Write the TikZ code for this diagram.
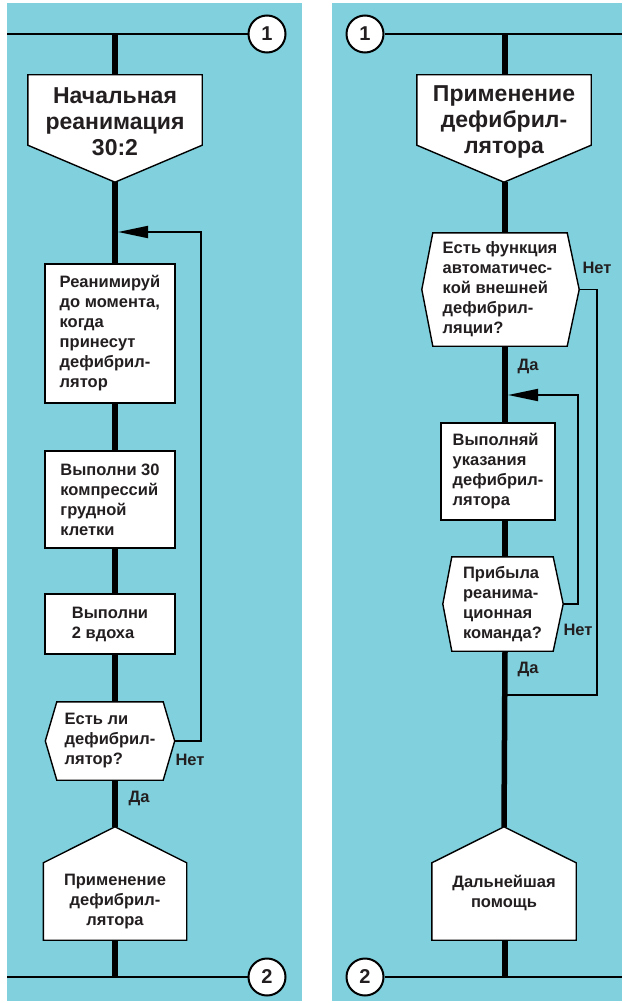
\documentclass[tikz,border=0pt]{standalone}
\usepackage{fontspec}
\setmainfont{Liberation Sans}
\usetikzlibrary{arrows.meta,calc}
\definecolor{panel}{RGB}{128,209,221}
\definecolor{ink}{RGB}{35,31,32}
\pgfdeclarelayer{bg}
\pgfsetlayers{bg,main}
\begin{document}
\begin{tikzpicture}[x=1pt,y=-1pt,
  body/.style={font=\fontsize{16.5}{20}\selectfont\bfseries, text=ink},
  head/.style={font=\fontsize{23}{26}\selectfont\bfseries, text=ink, align=center},
  box/.style={body, draw=black, line width=1.4pt, fill=white, align=left, inner sep=0pt},
  shapebox/.style={inner sep=0pt, draw=none},
  outline/.style={draw=black, line width=1.4pt, fill=white, line join=miter},
  spine/.style={line width=5.5pt, black},
  wire/.style={line width=2pt, black},
  loopline/.style={line width=1.8pt, black},
  tip/.style={-{Triangle[length=30pt,width=12pt]}},
  conn/.style={circle, draw=black, line width=2pt, fill=white, minimum size=37pt, inner sep=0pt, font=\fontsize{20}{20}\selectfont\bfseries, text=ink},
  lbl/.style={body},
]
\useasboundingbox (0,0) rectangle (622,1003);

% ---------------- left panel ----------------
\coordinate (sL) at (115,0);
\node[conn] (c1L) at (267,34) {1};
\coordinate (e1L) at (7,34);
\coordinate (j1L) at (115,34);
\node[shapebox, minimum width=174pt, minimum height=107pt] (hL) at (115,128.5) {};
\node[head] (hLt) at (115,122) {Начальная\\реанимация\\30:2};
\node[box, minimum width=130pt, minimum height=139pt] (b1L) at (110,333.5)
  {Реанимируй\\до момента,\\когда\\принесут\\дефибрил-\\лятор};
\node[box, minimum width=130pt, minimum height=97pt] (b2L) at (110,499.5)
  {Выполни 30\\компрессий\\грудной\\клетки};
\node[box, minimum width=130pt, minimum height=60pt] (b3L) at (110,624)
  {Выполни\\2 вдоха};
\node[shapebox, body, align=left, minimum width=106pt, minimum height=78pt] (dL) at (110,741)
  {Есть ли\\дефибрил-\\лятор?};
\coordinate (dLr) at ([xshift=11.5pt]dL.east);
\coordinate (dLl) at ([xshift=-11.5pt]dL.west);
\node[shapebox, body, align=center, minimum width=143pt, minimum height=77pt] (pL) at (115,901.5)
  {Применение\\дефибрил-\\лятора};
\coordinate (pLapex) at ([yshift=36pt]pL.north);
\node[conn] (c2L) at (267,977) {2};
\coordinate (e2L) at (7,977);
\coordinate (j2L) at (115,977);
\coordinate (aL) at (118,232);
\node[lbl] (noL) at (190,760) {Нет};
\node[lbl] (yesL) at (139,798) {Да};

% ---------------- right panel ----------------
\coordinate (sR) at (505,0);
\node[conn] (c1R) at (365,34) {1};
\coordinate (e1R) at (622,34);
\coordinate (j1R) at (505,34);
\node[shapebox, minimum width=174pt, minimum height=107pt] (hR) at (504,128.5) {};
\node[head] (hRt) at (504,122) {Применение\\дефибрил-\\лятора};
\node[shapebox, body, align=left, minimum width=134pt, minimum height=113pt] (dR1) at (500,289.5)
  {Есть функция\\автоматичес-\\кой внешней\\дефибрил-\\ляции?};
\coordinate (dR1r) at ([xshift=12pt]dR1.east);
\coordinate (dR1l) at ([xshift=-11pt]dR1.west);
\node[box, minimum width=114pt, minimum height=97pt] (bR) at (498,471.5)
  {Выполняй\\указания\\дефибрил-\\лятора};
\node[shapebox, body, align=left, minimum width=101pt, minimum height=94pt] (dR2) at (502.5,604)
  {Прибыла\\реанима-\\ционная\\команда?};
\coordinate (dR2r) at ([xshift=10pt]dR2.east);
\coordinate (dR2l) at ([xshift=-9pt]dR2.west);
\node[shapebox, body, align=center, minimum width=144pt, minimum height=77pt] (pR) at (504,901.5)
  {Дальнейшая\\помощь\\\mbox{}};
\coordinate (pRapex) at ([yshift=36pt]pR.north);
\node[conn] (c2R) at (365,977) {2};
\coordinate (e2R) at (622,977);
\coordinate (j2R) at (505,977);
\coordinate (aR) at (508,395);
\coordinate (mR) at (505,695);
\node[lbl] (noR1) at (597,268) {Нет};
\node[lbl] (yesR1) at (528,366) {Да};
\node[lbl] (noR2) at (578,630) {Нет};
\node[lbl] (yesR2) at (528,669) {Да};

\begin{pgfonlayer}{bg}
  \fill[white] (0,0) rectangle (622,1003);
  \fill[panel] (7,3) rectangle (302,1001);
  \fill[panel] (332,3) rectangle (622,1001);
  % left wires and spine
  \draw[wire] (e1L) -- (c1L);
  \draw[wire] (e2L) -- (c2L);
  \draw[spine] (j1L) -- (sL |- hL.north);
  \draw[spine] (sL |- hL.south) -- (sL |- dL.north);
  \draw[spine] (sL |- dL.south) -- (pLapex);
  \draw[spine] (pL.south) -- (j2L);
  % right wires and spine
  \draw[wire] (c1R) -- (e1R);
  \draw[wire] (c2R) -- (e2R);
  \draw[spine] (j1R) -- (sR |- hR.north);
  \draw[spine] (sR |- hR.south) -- (sR |- dR1.north);
  \draw[spine] (sR |- dR1.south) -- (sR |- dR2.north);
  \draw[spine] (sR |- dR2.south) -- (pRapex);
  \draw[spine] (sR |- pR.south) -- (j2R);
  % outlines
  \draw[outline] (hL.north west) -- (hL.north east) -- ([yshift=37pt]hL.south east)
     -- (hL.south) -- ([yshift=37pt]hL.south west) -- cycle;
  \draw[outline] (hR.north west) -- (hR.north east) -- ([yshift=37pt]hR.south east)
     -- (hR.south) -- ([yshift=37pt]hR.south west) -- cycle;
  \draw[outline] (dL.north west) -- (dL.north east) -- (dLr) -- (dL.south east)
     -- (dL.south west) -- (dLl) -- cycle;
  \draw[outline] (dR1.north west) -- (dR1.north east) -- (dR1r) -- (dR1.south east)
     -- (dR1.south west) -- (dR1l) -- cycle;
  \draw[outline] (dR2.north west) -- (dR2.north east) -- (dR2r) -- (dR2.south east)
     -- (dR2.south west) -- (dR2l) -- cycle;
  \draw[outline] (pL.south west) -- (pL.north west) -- (pLapex) -- (pL.north east)
     -- (pL.south east) -- cycle;
  \draw[outline] (pR.south west) -- (pR.north west) -- (pRapex) -- (pR.north east)
     -- (pR.south east) -- cycle;
  % loops
  \draw[loopline, tip] (dLr) -- ++(26pt,0) |- (aL);
  \draw[loopline] (dR1r) -- ++(18pt,0) |- (mR);
  \draw[loopline, tip] (dR2r) -- ++(15pt,0) |- (aR);
\end{pgfonlayer}
\end{tikzpicture}
\end{document}
